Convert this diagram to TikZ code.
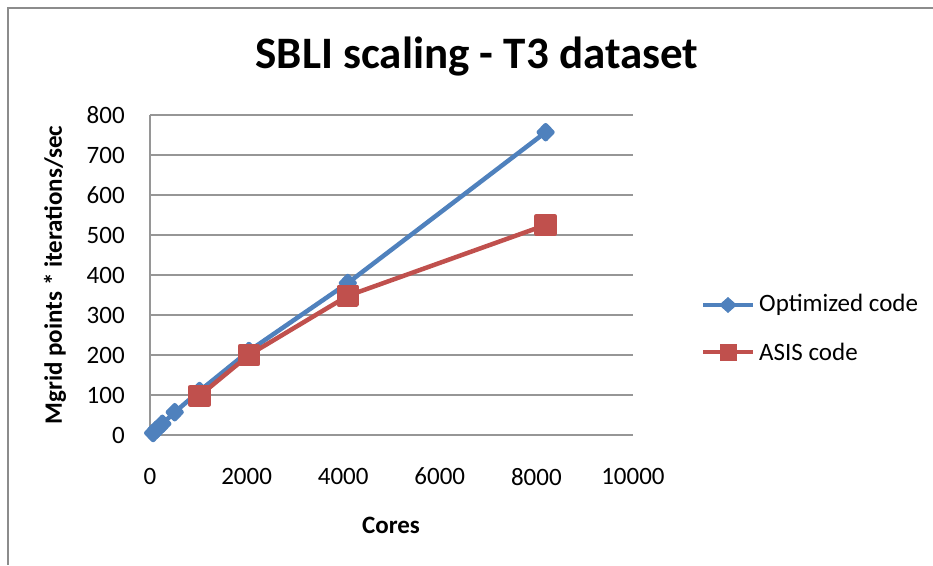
\documentclass[tikz,border=0pt]{standalone}
\usepackage{fontspec}
\setmainfont{Carlito}
\usepackage{xcolor}
\usetikzlibrary{plotmarks}
\definecolor{optblue}{RGB}{79,129,189}
\definecolor{asisred}{RGB}{192,80,77}
\definecolor{gridgray}{RGB}{150,150,150}
\definecolor{framegray}{RGB}{140,140,140}

\begin{document}
\begin{tikzpicture}[x=1pt,y=-1pt,
    gridline/.style={draw=gridgray,line width=1.2pt},
    ticklabel/.style={font=\fontsize{25}{25}\selectfont,inner sep=0pt},
    axistitle/.style={font=\fontsize{25}{25}\selectfont\bfseries,inner sep=0pt},
    seriesline/.style={line width=4.5pt,line join=round}]
        \useasboundingbox (0,0) rectangle (933,565);
        \draw[framegray,line width=1.5pt] (933,8) -- (8,8) -- (8,565);
        \node[font=\fontsize{45}{45}\selectfont\bfseries] (title) at (477,57) {SBLI scaling - T3 dataset};
        \node[axistitle,rotate=90] (ytitle) at (55,275) {Mgrid points * iterations/sec};
        \node[axistitle] (xtitle) at (391,525) {Cores};
        \begin{scope}[shift={(150,435)},x=0.0483pt,y=0.4pt]
            \foreach \v in {0,100,...,800} {
                \draw[gridline] (0,\v) -- (10000,\v);
                \node[ticklabel,anchor=east] (y\v) at (-520,\v) {\v};
            }
            \draw[gridline] (0,0) -- (0,800);
            \foreach \c in {0,2000,...,10000}
                \node[ticklabel,anchor=north] (x\c) at (\c,-82) {\c};
            \draw[optblue,seriesline,mark=diamond*,mark size=7pt,mark options={xscale=1.3}]
                plot coordinates {(64,5) (128,13) (256,28) (512,57) (1024,110) (2048,210) (4096,380) (8192,757)};
            \draw[asisred,seriesline,mark=square*,mark size=9pt]
                plot coordinates {(1024,98) (2048,200) (4096,348) (8192,525)};
        \end{scope}
        % legend
        \node[ticklabel,anchor=west] (optlabel) at (759,305) {Optimized code};
        \node[ticklabel,anchor=west] (asislabel) at (759,352) {ASIS code};
        \coordinate (optstart) at (703,305);
        \coordinate (asisstart) at (703,352);
        \draw[optblue,seriesline] (optstart) -- ([xshift=-6pt]optlabel.west);
        \draw[asisred,seriesline] (asisstart) -- ([xshift=-6pt]asislabel.west);
        \fill[optblue] (728,297) -- (737,305) -- (728,313) -- (719,305) -- cycle;
        \fill[asisred] (719.5,343.5) rectangle (736.5,360.5);
\end{tikzpicture}
\end{document}
